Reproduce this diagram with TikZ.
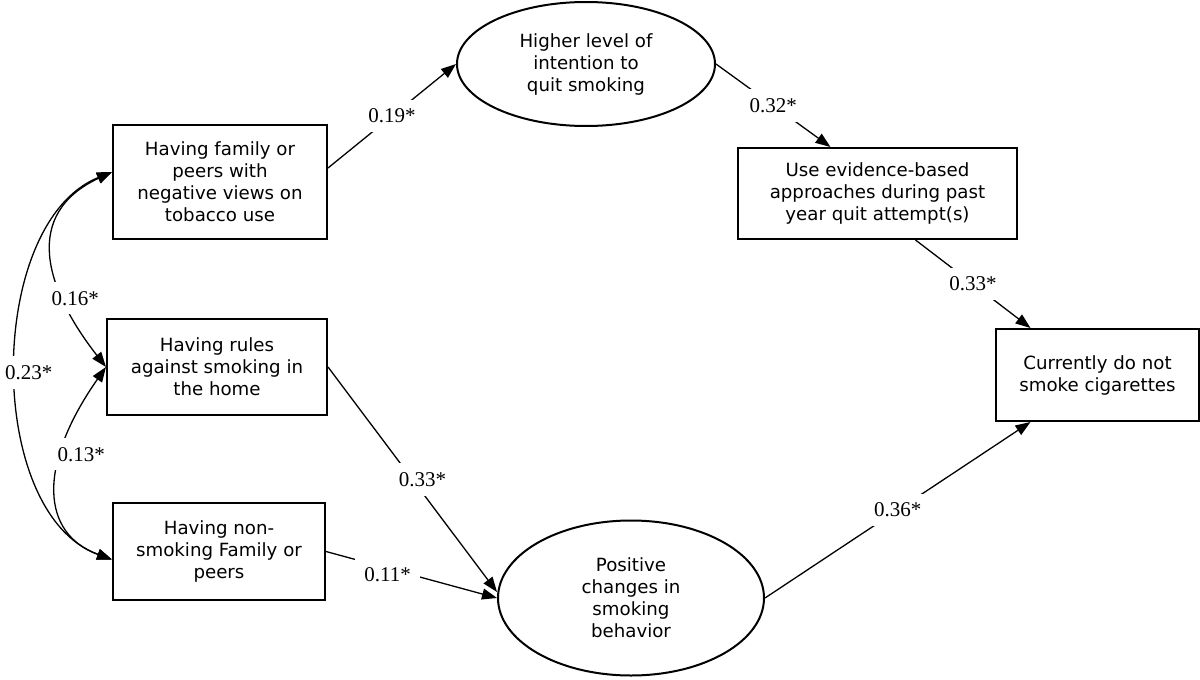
\documentclass[tikz,border=0pt]{standalone}
\usepackage{fontspec}
\setmainfont{DejaVu Sans}
\newfontfamily\coeffont{Liberation Serif}
\usetikzlibrary{shapes.geometric,arrows.meta}

\begin{document}
\begin{tikzpicture}[x=1pt,y=1pt,
  box/.style={rectangle,draw,line width=2pt,align=center,inner sep=0pt,
              font=\fontsize{18.2}{22}\selectfont},
  oval/.style={ellipse,draw,line width=2pt,align=center,inner sep=0pt,
              font=\fontsize{18.2}{22}\selectfont},
  arr/.style={-{Triangle[length=15pt,width=11pt]},line width=1.3pt},
  biarr/.style={{Triangle[length=15pt,width=11pt]}-{Triangle[length=15pt,width=11pt]},line width=1.3pt},
  coef/.style={fill=white,inner sep=9pt,font=\coeffont\fontsize{21}{24}\selectfont}]
  \useasboundingbox (0,0) rectangle (1200,-680);
  % left column
  \node[box,minimum width=214pt,minimum height=114pt](fam) at (220,-182){Having family or\\peers with\\negative views on\\tobacco use};
  \node[box,minimum width=220pt,minimum height=96pt](rul) at (217,-367){Having rules\\against smoking in\\the home};
  \node[box,minimum width=212pt,minimum height=97pt](non) at (219,-551.5){Having non-\\smoking Family or\\peers};
  % mediators and outcome
  \node[oval,minimum width=258pt,minimum height=124pt](hi) at (586,-64){Higher level of\\intention to\\quit smoking};
  \node[oval,minimum width=266pt,minimum height=155pt](pos) at (631,-598){Positive\\changes in\\smoking\\behavior};
  \node[box,minimum width=279pt,minimum height=91pt](ebp) at (877.5,-193.5){Use evidence-based\\approaches during past\\year quit attempt(s)};
  \node[box,minimum width=203pt,minimum height=92pt](cur) at (1097.5,-375){Currently do not\\smoke cigarettes};
  % correlations
  \draw[biarr] ([yshift=10pt]fam.west) to[out=202,in=160,looseness=0.9] node[coef,pos=0.5,xshift=12pt,yshift=-5pt]{0.23*} ([yshift=-8pt]non.west);
  \draw[biarr] ([yshift=10pt]fam.west) to[out=205,in=128,looseness=1.3] node[coef,pos=0.7,xshift=12pt]{0.16*} (rul.west);
  \draw[biarr] (rul.west) to[out=235,in=160,out looseness=1.6,in looseness=1] node[coef,pos=0.33,xshift=20pt]{0.13*} ([yshift=-8pt]non.west);
  % paths
  \draw[arr] ([yshift=14pt]fam.east) -- node[coef]{0.19*} (hi.west);
  \draw[arr] (hi.east) -- node[coef]{0.32*} ([xshift=-47pt]ebp.north);
  \draw[arr] ([xshift=38pt]ebp.south) -- node[coef]{0.33*} ([xshift=-67pt]cur.north);
  \draw[arr] (rul.east) -- node[coef,xshift=10pt]{0.33*} ([yshift=6pt]pos.west);
  \draw[arr] (non.east) -- node[coef,pos=0.36,yshift=-6pt]{0.11*} (pos.west);
  \draw[arr] (pos.east) -- node[coef]{0.36*} ([xshift=-67pt]cur.south);
\end{tikzpicture}
\end{document}
